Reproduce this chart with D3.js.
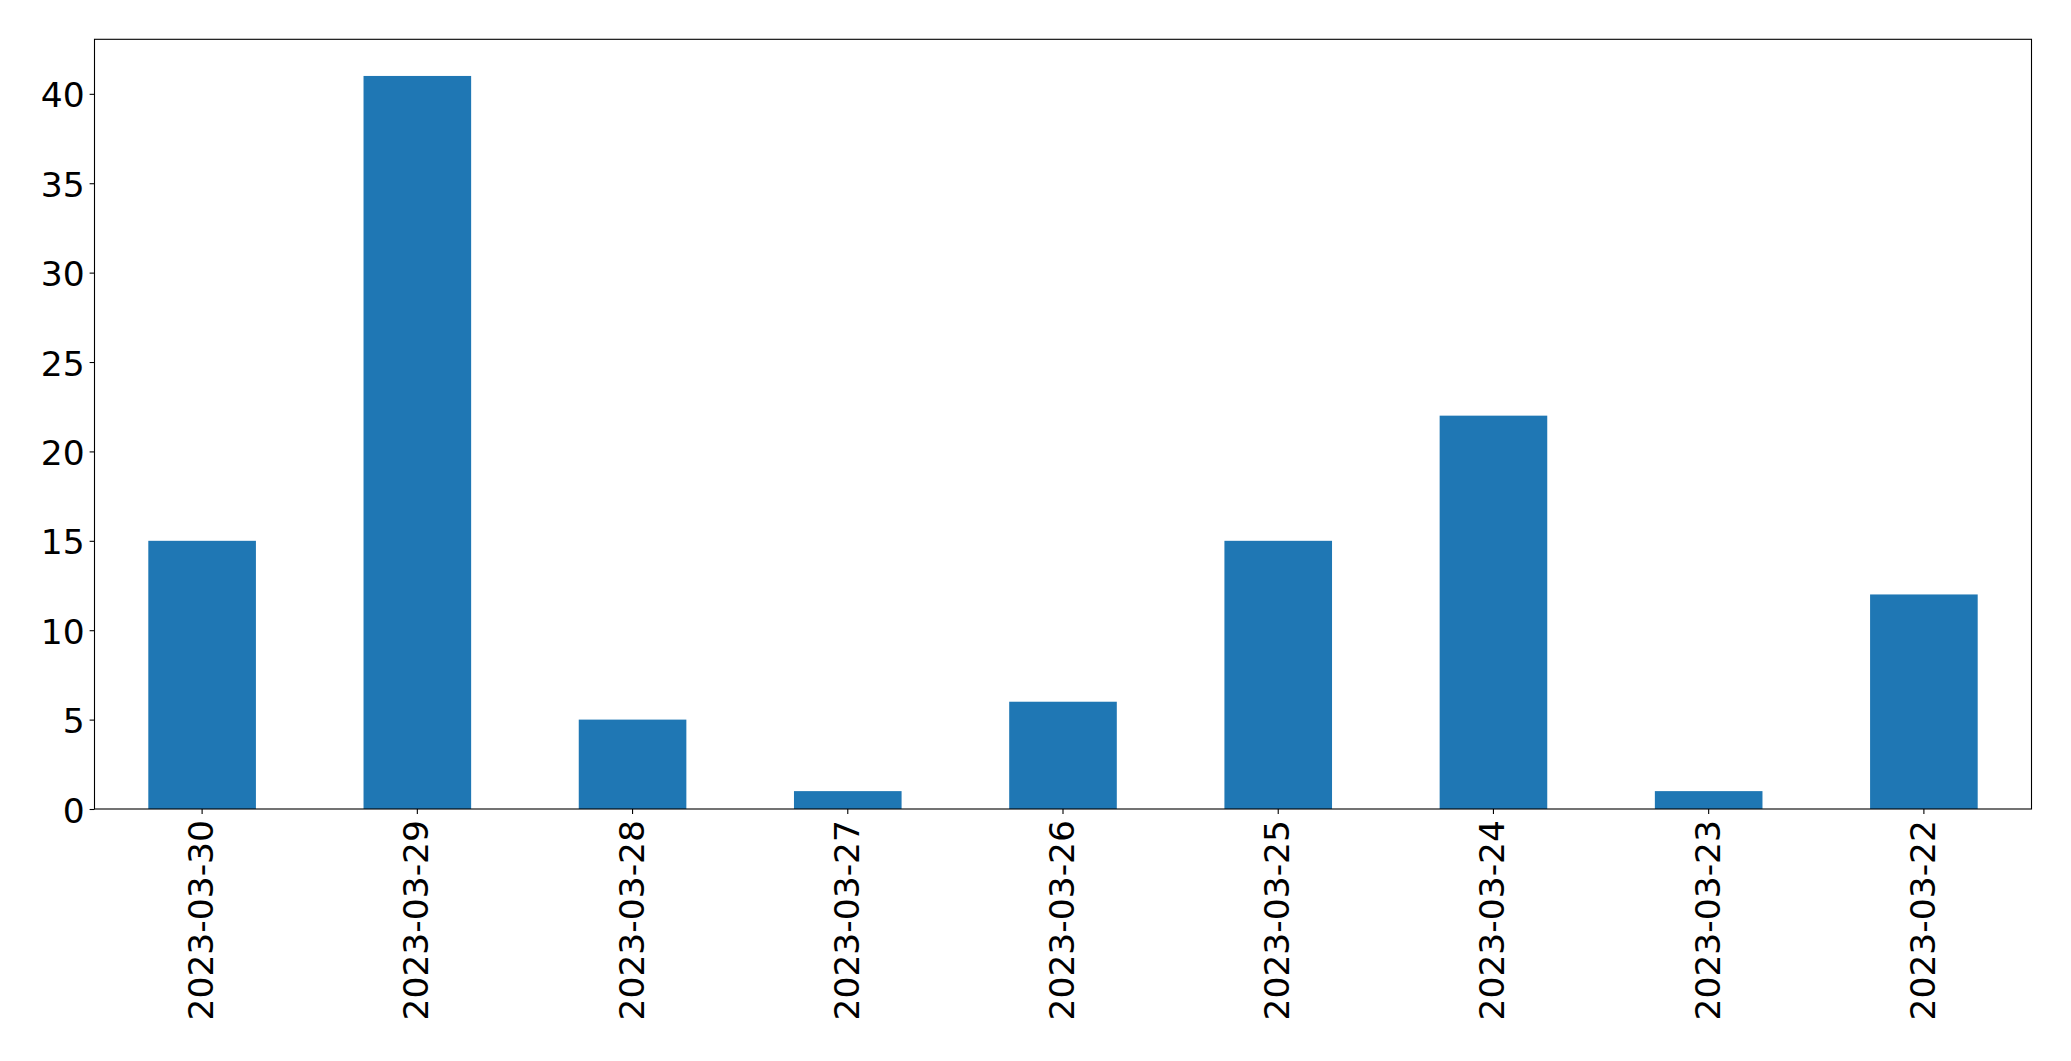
<!DOCTYPE html>
<html>
<head>
<meta charset="utf-8">
<script src="https://cdn.jsdelivr.net/npm/d3@7"></script>
<style>
html,body{margin:0;padding:0;background:#fff;}
svg{display:block;}
</style>
</head>
<body>
<svg id="chart" width="2071" height="1061"></svg>
<script>
const categories = ["2023-03-30","2023-03-29","2023-03-28","2023-03-27","2023-03-26","2023-03-25","2023-03-24","2023-03-23","2023-03-22"];
const values = [15, 41, 5, 1, 6, 15, 22, 1, 12];
const yTicks = [0, 5, 10, 15, 20, 25, 30, 35, 40];

const W = 2071, H = 1061;
const margin = {left: 94.5, right: 2071 - 2031.5, top: 39.3, bottom: 1061 - 809};
const svg = d3.select("#chart");
const fontSize = 34.5;
const font = "DejaVu Sans";

const x = d3.scaleBand().domain(categories)
  .range([margin.left, W - margin.right]).paddingInner(0.5).paddingOuter(0.25);
const y = d3.scaleLinear().domain([0, d3.max(values) * 1.05])
  .range([H - margin.bottom, margin.top]);

svg.append("g").selectAll("rect").data(values).join("rect")
  .attr("x", (d, i) => x(categories[i]))
  .attr("width", x.bandwidth())
  .attr("y", d => y(d))
  .attr("height", d => y(0) - y(d))
  .attr("fill", "#1f77b4");

// frame
svg.append("rect")
  .attr("x", margin.left).attr("y", margin.top)
  .attr("width", W - margin.right - margin.left)
  .attr("height", H - margin.bottom - margin.top)
  .attr("fill", "none").attr("stroke", "#000").attr("stroke-width", 1.1);

const yAxis = d3.axisLeft(y).tickValues(yTicks).tickSize(4.9).tickPadding(4.9).tickFormat(d3.format("d"));
const gy = svg.append("g").attr("transform", `translate(${margin.left},0)`).call(yAxis);
gy.select(".domain").remove();
gy.selectAll(".tick line").attr("stroke", "#000").attr("stroke-width", 1.1);
gy.selectAll(".tick text").attr("font-family", font).attr("font-size", fontSize)
  .attr("fill", "#000").attr("dy", "0.38em");

const xAxis = d3.axisBottom(x).tickSize(4.9).tickPadding(0);
const gx = svg.append("g").attr("transform", `translate(0,${H - margin.bottom})`).call(xAxis);
gx.select(".domain").remove();
gx.selectAll(".tick line").attr("stroke", "#000").attr("stroke-width", 1.1);
gx.selectAll(".tick text")
  .attr("font-family", font).attr("font-size", fontSize).attr("fill", "#000")
  .attr("text-anchor", "end")
  .attr("x", 0).attr("y", 0).attr("dy", "0.32em")
  .attr("transform", "translate(0,11) rotate(-90)");
</script>
</body>
</html>
